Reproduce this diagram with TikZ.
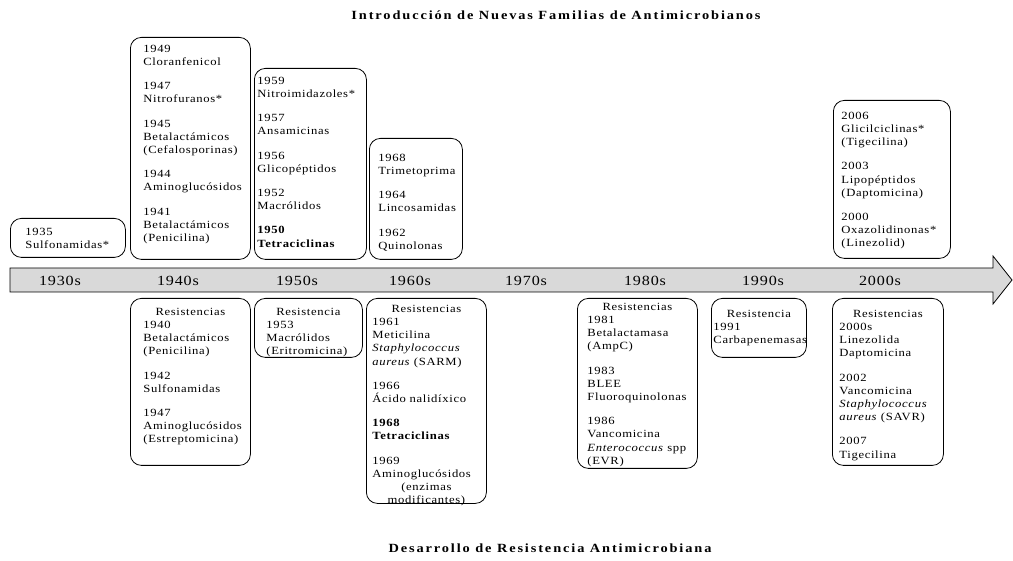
\documentclass[tikz,border=0pt]{standalone}
\usepackage{fontspec}
\setmainfont{Liberation Serif}[FakeStretch=1.15, LetterSpace=6]
\usepackage{xcolor}
\usepackage{tikz}

\definecolor{bargray}{HTML}{D9D9D9}
\newcommand{\gap}{\\[11pt]}
\newcommand{\hd}[1]{\makebox[\hsize]{#1}}

\tikzset{
  tbox/.style={draw, rounded corners=11pt, anchor=north west, align=left,
    inner ysep=0pt, font=\fontsize{11}{13.2}\selectfont},
  decade/.style={font=\fontsize{14}{16}\selectfont},
  heading/.style={font=\fontsize{12.5}{14}\selectfont\bfseries\addfontfeatures{LetterSpace=15}}
}

\begin{document}
\begin{tikzpicture}[x=1pt, y=-1pt, line width=0.8pt]
        \useasboundingbox (0,0) rectangle (1013,561);

        % Headings
        \node[heading] (topttl) at (556,15) {Introducción de Nuevas Familias de Antimicrobianos};
        \node[heading] (botttl) at (550,548) {Desarrollo de Resistencia Antimicrobiana};

        % The time bar
        \filldraw[fill=bargray, draw=black] (10,268) -- (993,268) -- (993,256) -- (1012,280)
            -- (993,304) -- (993,292) -- (10,292) -- cycle;
        \node[decade] (d1930) at (60,281) {1930s};
        \node[decade] (d1940) at (178,281) {1940s};
        \node[decade] (d1950) at (297,281) {1950s};
        \node[decade] (d1960) at (410,281) {1960s};
        \node[decade] (d1970) at (526,281) {1970s};
        \node[decade] (d1980) at (645,281) {1980s};
        \node[decade] (d1990) at (763,281) {1990s};
        \node[decade] (d2000) at (880,281) {2000s};

        % New families (above the bar)
        \node[tbox, text width=85pt, inner xsep=15pt, text height=17pt, text depth=22pt] (n1930) at (10,218)
            {1935\\Sulfonamidas*};
        \node[tbox, text width=94pt, inner xsep=13pt, text height=15pt, text depth=207pt] (n1940) at (130,37)
            {1949\\Cloranfenicol\gap 1947\\Nitrofuranos*\gap 1945\\Betalactámicos\\(Cefalosporinas)\gap
             1944\\Aminoglucósidos\gap 1941\\Betalactámicos\\(Penicilina)};
        \node[tbox, text width=106pt, inner xsep=3pt, text height=16pt, text depth=175pt] (n1950) at (254,68)
            {1959\\Nitroimidazoles*\gap 1957\\Ansamicinas\gap 1956\\Glicopéptidos\gap 1952\\Macrólidos\gap
             \textbf{1950}\\\textbf{Tetraciclinas}};
        \node[tbox, text width=75pt, inner xsep=9pt, text height=23pt, text depth=98pt] (n1960) at (369,138)
            {1968\\Trimetoprima\gap 1964\\Lincosamidas\gap 1962\\Quinolonas};
        \node[tbox, text width=101pt, inner xsep=8pt, text height=19pt, text depth=139pt] (n2000) at (833,100)
            {2006\\Glicilciclinas*\\(Tigecilina)\gap 2003\\Lipopéptidos\\(Daptomicina)\gap
             2000\\Oxazolidinonas*\\(Linezolid)};

        % Resistance (below the bar)
        \node[tbox, text width=94pt, inner xsep=13pt, text height=17pt, text depth=150pt] (r1940) at (130,298)
            {\hd{Resistencias}\\1940\\Betalactámicos\\(Penicilina)\gap 1942\\Sulfonamidas\gap
             1947\\Aminoglucósidos\\(Estreptomicina)};
        \node[tbox, text width=84pt, inner xsep=12pt, text height=17pt, text depth=42pt] (r1950) at (254,298)
            {\hd{Resistencia}\\1953\\Macrólidos\\(Eritromicina)};
        \node[tbox, text width=108pt, inner xsep=6pt, text height=14pt, text depth=191pt] (r1960) at (366,298)
            {\hd{Resistencias}\\1961\\Meticilina\\\textit{Staphylococcus}\\\textit{aureus} (SARM)\gap
             1966\\Ácido nalidíxico\gap \textbf{1968}\\\textbf{Tetraciclinas}\gap
             1969\\Aminoglucósidos\\\hd{(enzimas}\\\hd{modificantes)}};
        \node[tbox, text width=100pt, inner xsep=10pt, text height=12pt, text depth=158pt] (r1980) at (577,298)
            {\hd{Resistencias}\\1981\\Betalactamasa\\(AmpC)\gap 1983\\BLEE\\Fluoroquinolonas\gap
             1986\\Vancomicina\\\textit{Enterococcus} spp\\(EVR)};
        \node[tbox, text width=91pt, inner xsep=2pt, text height=19pt, text depth=40pt] (r1990) at (711,298)
            {\hd{Resistencia}\\1991\\Carbapenemasas};
        \node[tbox, text width=97pt, inner xsep=7pt, text height=19pt, text depth=148pt] (r2000) at (832,298)
            {\hd{Resistencias}\\2000s\\Linezolida\\Daptomicina\gap 2002\\Vancomicina\\\textit{Staphylococcus}\\
             \textit{aureus} (SAVR)\gap 2007\\Tigecilina};
    \end{tikzpicture}
\end{document}
